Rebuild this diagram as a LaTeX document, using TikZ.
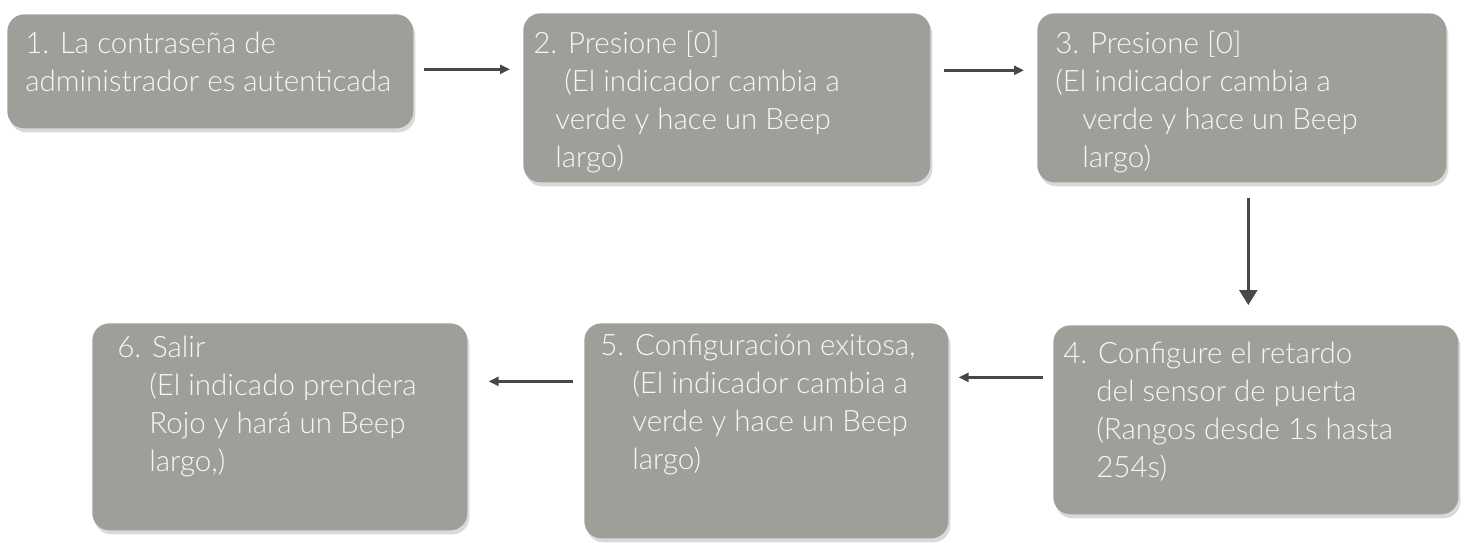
\documentclass[tikz,border=0pt]{standalone}
\usepackage{fontspec}
\setmainfont{Lato Light}
\usetikzlibrary{arrows.meta,shadows,calc}
\definecolor{boxgray}{HTML}{9F9F9A}
\definecolor{arrowgray}{HTML}{45484C}
\definecolor{txtwhite}{HTML}{F7F7F4}
\begin{document}
\begin{tikzpicture}[x=0.02cm,y=-0.02cm,
	stepbox/.style={rectangle,rounded corners=0.34cm,fill=boxgray,inner sep=0pt,anchor=north west,drop shadow={shadow xshift=0.04cm,shadow yshift=-0.08cm,opacity=0.3}},
	steptext/.style={anchor=north west,inner sep=0pt,align=left,text=txtwhite,font=\fontsize{16.8}{21.6}\selectfont},
	flow/.style={draw=arrowgray,line width=0.05cm,-{Triangle[length=0.2cm,width=0.18cm]}}]

	\useasboundingbox (0,0) rectangle (1471,542);

	\node[stepbox, minimum width=8.12cm, minimum height=2.28cm] (b1) at (7,14) {};
	\node[stepbox, minimum width=8.14cm, minimum height=3.38cm] (b2) at (523,13) {};
	\node[stepbox, minimum width=8.18cm, minimum height=3.38cm] (b3) at (1037,13) {};
	\node[stepbox, minimum width=8.10cm, minimum height=3.78cm] (b4) at (1053,325) {};
	\node[stepbox, minimum width=7.28cm, minimum height=4.30cm] (b5) at (584,323) {};
	\node[stepbox, minimum width=7.50cm, minimum height=4.14cm] (b6) at (92,323) {};

	\node[steptext] (t1) at (25,26.3) {\strut 1. La contraseña de\\administrador es autenticada};
	\node[steptext] (t2) at (533,26.3) {\strut 2. Presione [0]\\\hspace*{0.62cm}(El indicador cambia a\\\hspace*{0.44cm}verde y hace un Beep\\\hspace*{0.44cm}largo)};
	\node[steptext] (t3) at (1055,26.3) {\strut 3. Presione [0]\\(El indicador cambia a\\\hspace*{0.54cm}verde y hace un Beep\\\hspace*{0.54cm}largo)};
	\node[steptext] (t4) at (1063,336.3) {\strut 4. Configure el retardo\\\hspace*{0.66cm}del sensor de puerta\\\hspace*{0.66cm}(Rangos desde 1s hasta\\\hspace*{0.66cm}254s)};
	\node[steptext] (t5) at (600,328.3) {\strut 5. Configuración exitosa,\\\hspace*{0.64cm}(El indicador cambia a\\\hspace*{0.64cm}verde y hace un Beep\\\hspace*{0.64cm}largo)};
	\node[steptext] (t6) at (117,330.3) {\strut 6. Salir\\\hspace*{0.64cm}(El indicado prendera\\\hspace*{0.64cm}Rojo y hará un Beep\\\hspace*{0.64cm}largo,)};

	\draw[flow] ([shift={(10,-2)}]b1.east) -- ($(b1.east -| b2.west)+(-13,-2)$);
	\draw[flow] ([shift={(13,-27.5)}]b2.east) -- ($(b2.east -| b3.west)+(-13,-27.5)$);
	\draw[flow, -{Triangle[length=0.3cm,width=0.36cm]}] ([shift={(6.5,15)}]b3.south) -- ($(b3.south |- b4.north)+(6.5,-20)$);
	\draw[flow] ([shift={(-10,-42.5)}]b4.west) -- ($(b4.west -| b5.east)+(10,-42.5)$);
	\draw[flow] ([shift={(-11,-49.5)}]b5.west) -- ($(b5.west -| b6.east)+(21,-49.5)$);

\end{tikzpicture}
\end{document}
